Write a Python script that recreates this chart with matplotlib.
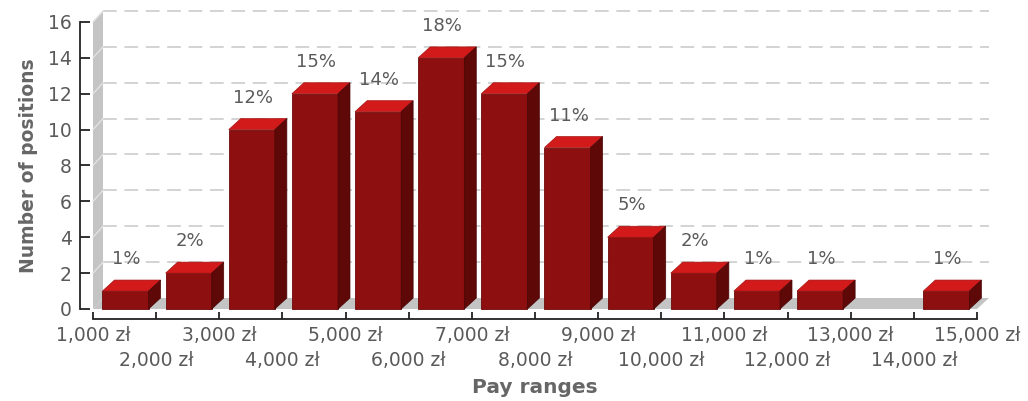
import matplotlib.pyplot as plt
from matplotlib.patches import Polygon

# pay range boundaries (tick labels) and number of positions in each range
pay_bounds = ["1,000 zł", "2,000 zł", "3,000 zł", "4,000 zł", "5,000 zł",
              "6,000 zł", "7,000 zł", "8,000 zł", "9,000 zł", "10,000 zł",
              "11,000 zł", "12,000 zł", "13,000 zł", "14,000 zł", "15,000 zł"]
positions = [1, 2, 10, 12, 11, 14, 12, 9, 4, 2, 1, 1, 0, 1]
y_ticks = [0, 2, 4, 6, 8, 10, 12, 14, 16]

W, H = 1028, 401
fig = plt.figure(figsize=(W / 100, H / 100), dpi=100)
# plot box in pixels: x 93..977, y 309..22
ax = fig.add_axes([93 / W, (H - 309) / H, 884 / W, 287 / H])
ax.set_xlim(0, len(positions))
ax.set_ylim(0, 16)
ax.patch.set_visible(False)

# pixel -> data helpers for the fake 3d depth
px_x = len(positions) / 884
px_y = 16 / 287
dx, dy = 12 * px_x, 11 * px_y
wall_dx = 10 * px_x

GRID = "#c8c8c8"
WALL = "#c4c4c4"
FRONT = "#8e0f0f"
TOP = "#d21a1a"
SIDE = "#5e0808"
TEXT = "#5a5a5a"

n = len(positions)

# left wall and floor
ax.add_patch(Polygon([(0, 0), (0, 16), (wall_dx, 16 + dy), (wall_dx, dy)],
                     closed=True, fc=WALL, ec="none", clip_on=False, zorder=1))
ax.add_patch(Polygon([(0, 0), (n, 0), (n + dx, dy), (wall_dx, dy)],
                     closed=True, fc=WALL, ec="none", clip_on=False, zorder=1))

# dashed grid on the back plane
for v in y_ticks[1:]:
    ax.plot([wall_dx, n + dx], [v + dy, v + dy], color=GRID, lw=1.1,
            linestyle=(0, (9, 5)), clip_on=False, zorder=1)
    ax.plot([0, wall_dx], [v, v + dy], color="#e2e2e2", lw=1.0,
            clip_on=False, zorder=2)

# bars
total = sum(positions)
x0, x1 = 0.15, 0.88
for i, v in enumerate(positions):
    if v == 0:
        continue
    l, r = i + x0, i + x1
    front = Polygon([(l, 0), (r, 0), (r, v), (l, v)], closed=True,
                    fc=FRONT, ec="#6a0909", lw=0.6, clip_on=False, zorder=3)
    top = Polygon([(l, v), (r, v), (r + dx, v + dy), (l + dx, v + dy)],
                  closed=True, fc=TOP, ec="#a51212", lw=0.5, clip_on=False, zorder=3)
    side = Polygon([(r, 0), (r + dx, dy), (r + dx, v + dy), (r, v)],
                   closed=True, fc=SIDE, ec="#4a0606", lw=0.5, clip_on=False, zorder=3)
    for p in (front, top, side):
        ax.add_patch(p)
    pct = round(v / total * 100)
    ax.text((l + r) / 2 + 1 * px_x, v + dy + 21 * px_y, f"{pct}%",
            ha="center", va="center", fontsize=13, color=TEXT, zorder=4)

# axes
for s in ("top", "right"):
    ax.spines[s].set_visible(False)
ax.spines["left"].set_position(("outward", 13 * 0.72))
ax.spines["bottom"].set_position(("outward", 10 * 0.72))
for s in ("left", "bottom"):
    ax.spines[s].set_linewidth(1.3)
    ax.spines[s].set_color("#222222")

ax.set_yticks(y_ticks)
ax.tick_params(axis="y", direction="in", length=7, width=1.3, color="#222222",
               pad=6, labelsize=13.5, labelcolor=TEXT)

# boundary labels on two staggered rows: even ones on major ticks, odd on minor
even = list(range(0, n + 1, 2))
odd = list(range(1, n + 1, 2))
ax.set_xticks(even)
ax.set_xticklabels([pay_bounds[i] for i in even])
ax.set_xticks(odd, minor=True)
ax.set_xticklabels([pay_bounds[i] for i in odd], minor=True)
ax.tick_params(axis="x", which="both", direction="in", length=5, width=1.3,
               color="#222222", labelsize=13.5, labelcolor=TEXT)
ax.tick_params(axis="x", which="major", pad=5)
ax.tick_params(axis="x", which="minor", pad=23)

ax.set_ylabel("Number of positions", fontsize=13.5, fontweight="bold", color="#666666")
ax.yaxis.set_label_coords((38 - 93) / 884, 0.5)
ax.set_xlabel("Pay ranges", fontsize=14.5, fontweight="bold", color="#666666")
ax.xaxis.set_label_coords(0.5, (309 - 378) / 287)

fig.savefig("out.png", dpi=100)
